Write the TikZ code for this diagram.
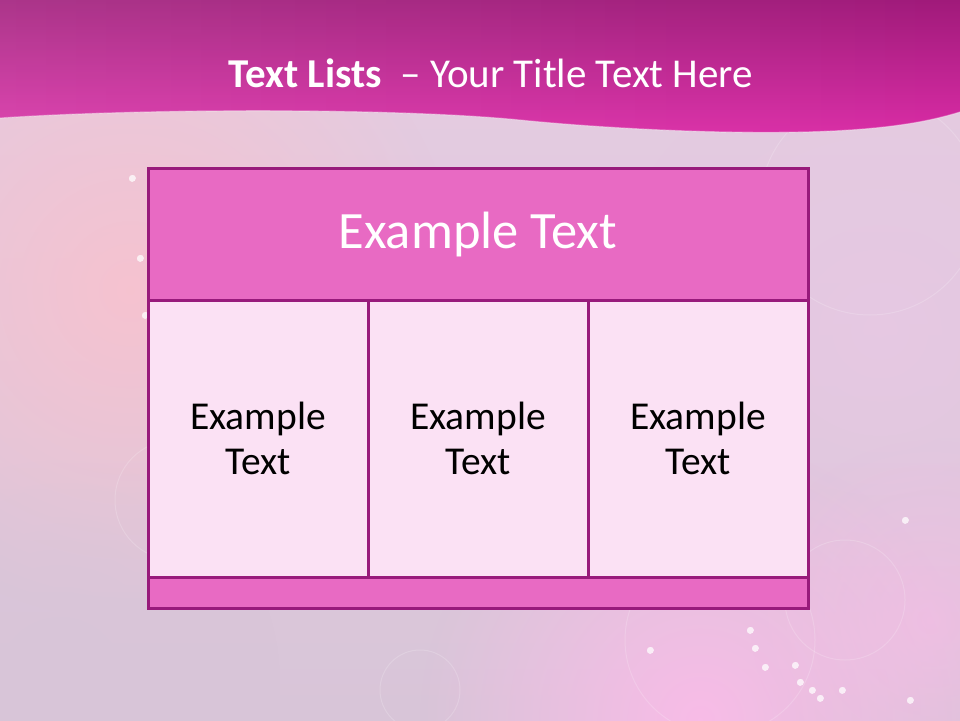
\documentclass[tikz,border=0pt]{standalone}
\usepackage{fontspec}
\setmainfont{Carlito}
\usetikzlibrary{fadings}
\tikzfading[name=softglow, inner color=transparent!0, outer color=transparent!100]
\definecolor{bandtop}{HTML}{A01A7A}
\definecolor{bandbot}{HTML}{DA2CA6}
\definecolor{gridline}{HTML}{981A7B}
\definecolor{headfill}{HTML}{E86AC3}
\definecolor{cellfill}{HTML}{FBE1F4}
\definecolor{bgtop}{HTML}{E6CCE2}
\definecolor{bgbot}{HTML}{D8C5D8}
\definecolor{peach}{HTML}{F7C2CF}
\definecolor{bokeh}{HTML}{FABBE8}
\definecolor{lav}{HTML}{E8C8E4}
\tikzset{
  gridbox/.style={draw=gridline, line width=3pt, inner sep=0pt},
  headbox/.style={gridbox, fill=headfill, text=white, font=\fontsize{52.5}{62}\selectfont},
  cellbox/.style={gridbox, fill=cellfill, text=black, align=center,
                  minimum width=220pt, minimum height=277pt,
                  font=\fontsize{39.5}{45}\selectfont},
  footbox/.style={gridbox, fill=headfill},
  glow/.style={path fading=softglow},
  spark/.style={path fading=circle with fuzzy edge 20 percent},
  ring/.style={draw=white, opacity=0.18, line width=1pt},
}
\begin{document}
\begin{tikzpicture}[x=1pt,y=-1pt]
\useasboundingbox (0,0) rectangle (960,720);
% background
\shade[top color=bgtop, bottom color=bgbot] (0,0) rectangle (960,720);
\fill[glow, peach, opacity=0.95] (130,290) circle (330);
\fill[glow, lav, opacity=0.8] (880,330) circle (280);
\fill[glow, bokeh, opacity=0.95] (700,720) circle (280);
\fill[glow, bokeh, opacity=0.6] (930,620) circle (180);
\fill[glow, bgbot, opacity=0.7] (60,680) circle (220);
% bokeh rings and sparkles
\draw[ring] (870,205) circle (110);
\draw[ring] (175,500) circle (60);
\draw[ring] (420,690) circle (40);
\draw[ring] (720,640) circle (95);
\draw[ring] (845,600) circle (60);
\foreach \p in {(132,178),(140,258),(145,315),(750,630),(755,648),(765,667),(795,665),(800,682),(812,690),(820,698),(842,690),(650,650),(905,520),(910,700)}
  \fill[white, opacity=0.75, spark] \p circle (4);
% title band
\shade[top color=bandtop, bottom color=bandbot]
  (0,0) -- (960,0) -- (960,112)
  .. controls (940,118) and (910,126) .. (850,130)
  .. controls (760,136) and (620,130) .. (520,120)
  .. controls (400,108) and (150,108) .. (0,118) -- cycle;
\fill[white, opacity=0.12, path fading=east]
  (0,0) -- (960,0) -- (960,112)
  .. controls (940,118) and (910,126) .. (850,130)
  .. controls (760,136) and (620,130) .. (520,120)
  .. controls (400,108) and (150,108) .. (0,118) -- cycle;
\draw[white, opacity=0.35, line width=1.2pt]
  (960,112)
  .. controls (940,118) and (910,126) .. (850,130)
  .. controls (760,136) and (620,130) .. (520,120)
  .. controls (400,108) and (150,108) .. (0,118);
\node[text=white, anchor=base, font=\fontsize{41}{48}\selectfont] (title) at (491,87)
  {\textbf{Text Lists}\ \ – Your Title Text Here};
% grid
\node[headbox, minimum width=660pt, minimum height=132pt] (head) at (478,234) {Example Text};
\node[cellbox] (c1) at (258,438.5) {Example\\Text};
\node[cellbox] (c2) at (478,438.5) {Example\\Text};
\node[cellbox] (c3) at (698,438.5) {Example\\Text};
\node[footbox, minimum width=660pt, minimum height=31pt] (foot) at (478,592.5) {};
\end{tikzpicture}
\end{document}
